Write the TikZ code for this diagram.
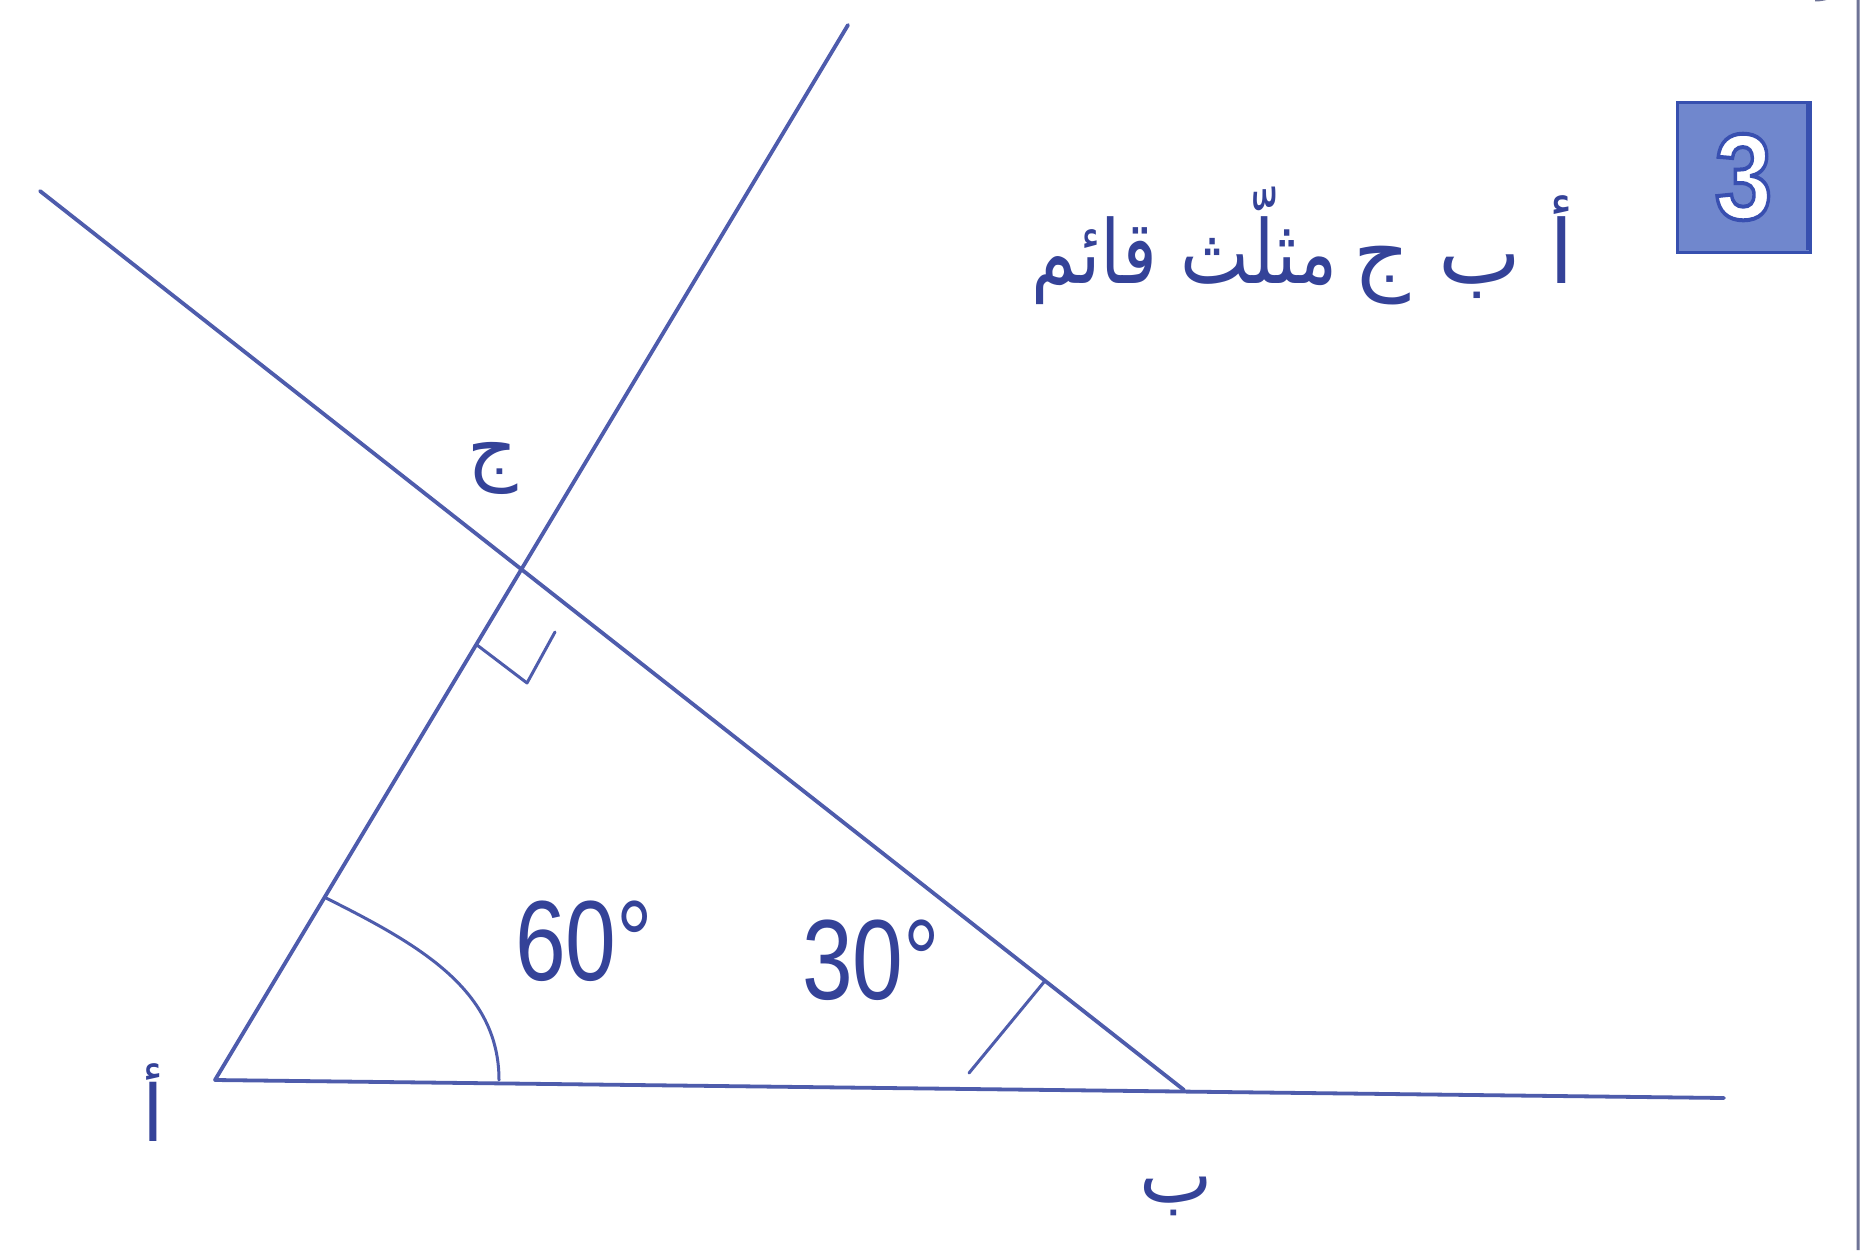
\documentclass[tikz,border=0pt]{standalone}
\usepackage{fontspec}
\setmainfont{Liberation Sans}
\newfontfamily\arabicfont[Script=Arabic]{DejaVu Sans}
\TeXXeTstate=1
\definecolor{linec}{RGB}{78,92,172}
\definecolor{txtc}{RGB}{52,66,152}
\definecolor{boxfill}{RGB}{112,135,205}
\definecolor{boxdraw}{RGB}{55,80,175}
\definecolor{edgec}{RGB}{110,115,150}
\begin{document}
\begin{tikzpicture}[x=1pt,y=-1pt,
  geo/.style={draw=linec, line width=3.8pt, line cap=round},
  tickline/.style={draw=linec, line width=3pt, line cap=round, line join=round},
  lbl/.style={text=txtc, inner sep=0pt, font=\arabicfont\fontsize{78}{94}\selectfont},
  ttl/.style={text=txtc, inner sep=0pt, font=\arabicfont\fontsize{88}{100}\selectfont},
  deg/.style={text=txtc, inner sep=0pt, font=\fontsize{114}{130}\selectfont, xscale=0.8},
  num/.style={inner sep=0pt, font=\bfseries\fontsize{122}{130}\selectfont, xscale=0.85}
]
\useasboundingbox (0,0) rectangle (1862,1250);
\fill[white] (0,0) rectangle (1862,1250);

% page edge
\draw[edgec, line width=3pt] (1815,0) arc[start angle=90, end angle=0, radius=43] -- (1858,1250);

% points
\coordinate (A) at (215,1080);
\coordinate (B) at (1184,1090);
\coordinate (C) at (520,575);
\coordinate (T) at (848,25);
\coordinate (L) at (40,191);
\coordinate (R) at (1724,1098);

% lines
\draw[geo] (A) -- (R);
\draw[geo] (A) -- (T);
\draw[geo] (B) -- (L);

% right angle mark at C
\coordinate (r1) at (477,645);
\coordinate (r2) at (527,683);
\coordinate (r3) at (555,632);
\draw[tickline] (r1) -- (r2) -- (r3);

% 60 degree arc at A
\coordinate (a1) at (326,898);
\coordinate (a2) at (499,1080);
\draw[tickline] (a1) .. controls (420,945) and (499,990) .. (a2);

% 30 degree mark at B
\coordinate (b1) at (1044,982);
\coordinate (b2) at (969,1073);
\draw[tickline] (b1) -- (b2);

% angle labels
\node[deg] (d60) at (584,941) {60°};
\node[deg] (d30) at (871,960) {30°};

% vertex labels
\node[lbl] (lA) at (153,1103) {\beginR أ\endR};
\node[lbl] (lB) at (1176,1196) {\beginR ب\endR};
\node[lbl] (lC) at (493,468) {\beginR ج\endR};

% title
\node[ttl, anchor=base east] (t1) at (1574,283) {\beginR أ ب ج\endR};
\node[ttl, anchor=base east, xscale=0.83] (t2) at (1338,283) {\beginR مثلّث قائم\endR};

% number box
\draw[boxdraw, fill=boxfill, line width=3pt] (1677,102) rectangle (1810,252);
\draw[boxdraw, line width=5pt] (1808,104) -- (1808,250);
\node[num] (n3) at (1743.5,177) {\color{white}\special{pdf:literal direct 2 Tr 4 w 0.22 0.31 0.69 RG}3\special{pdf:literal direct 0 Tr}};
\end{tikzpicture}
\end{document}
